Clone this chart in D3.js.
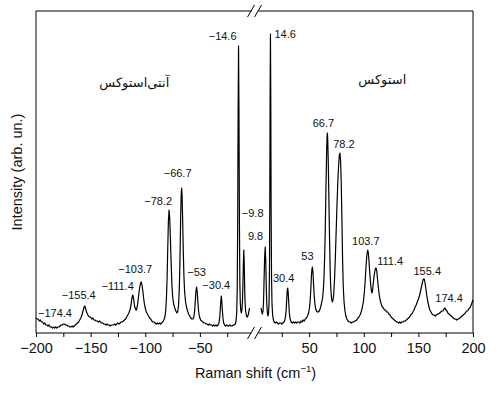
<!DOCTYPE html>
<html><head><meta charset="utf-8">
<script src="https://cdn.jsdelivr.net/npm/d3@7"></script>
<style>
body{margin:0;background:#fff;}
svg{display:block;}
text{font-family:"Liberation Sans",Arial,sans-serif;fill:#111;}
.fa{font-family:"DejaVu Sans","Noto Sans",sans-serif;}
</style></head><body>
<svg id="c" width="500" height="394"></svg>
<script>
// ---- data ----
const antiStokesShift = [-200,-199,-198,-197,-196,-195,-194,-193,-192,-191,-190,-189,-188,-187,-186,-185,-184,-183,-182,-181,-180,-179,-178,-177,-176,-175,-174,-173,-172,-171,-170,-169,-168,-167,-166,-165,-164,-163,-162,-161,-160,-159,-158,-157,-156,-155.4,-155,-154,-153,-152,-151,-150,-149,-148,-147,-146,-145,-144,-143,-142,-141,-140,-139,-138,-137,-136,-135,-134,-133,-132,-131,-130,-129,-128,-127,-126,-125,-124,-123,-122,-121,-120,-119,-118,-117,-116,-115,-114,-113,-112.2,-111.4,-110.6,-109.8,-109,-108.2,-107.4,-106.6,-105.8,-105,-104.3,-103.7,-103,-102.2,-101.4,-100.6,-99.8,-99,-98,-97,-96,-95,-94,-93,-92,-91,-90,-89,-88,-87,-86,-85,-84,-83,-82,-81.3,-80.6,-80,-79.4,-78.8,-78.2,-77.6,-77,-76.3,-75.6,-74.8,-74,-73,-72,-71,-70.2,-69.5,-68.8,-68.2,-67.6,-67.1,-66.7,-66.3,-65.8,-65.2,-64.6,-64,-63.2,-62.3,-61.3,-60.3,-59.3,-58.3,-57.3,-56.3,-55.5,-54.8,-54.2,-53.6,-53,-52.4,-51.8,-51.1,-50.3,-49.3,-48.3,-47.3,-46.3,-45.3,-44.3,-43.3,-42.3,-41.3,-40.3,-39.3,-38.3,-37.3,-36.3,-35.3,-34.3,-33.3,-32.5,-31.8,-31.2,-30.7,-30.4,-30,-29.5,-28.9,-28.2,-27.4,-26.5,-25.5,-24.5,-23.5,-22.5,-21.5,-20.5,-19.5,-18.5,-17.6,-16.9,-16.3,-15.8,-15.4,-15,-14.6,-14.2,-13.8,-13.4,-13,-12.5,-12,-11.5,-11,-10.6,-10.2,-9.8,-9.4,-9,-8.6,-8.1,-7.5,-7,-6.4,-5.8,-5.2,-4.6];
const antiStokesIntensity = [15,14,14,12,13,11,11,9,10,8,8,7,8,6,6,5,6,5,6,5,6,6,7,8,8,9,9,8,8,7,7,6,6,7,6,7,8,9,10,11,13,15,18,22,26,27,26,22,19,17,16,16,14,15,13,13,12,12,11,12,11,10,10,9,9,8,9,8,8,7,8,8,8,9,8,9,10,9,10,11,11,12,13,14,16,18,20,23,28,35,38,34,27,24,23,26,32,40,46,50,51,48,42,34,28,24,21,19,17,15,14,12,11,11,10,9,10,9,10,9,10,11,13,16,22,35,55,85,112,123,115,95,70,48,35,29,25,22,20,22,28,45,75,115,138,145,138,115,82,57,42,32,26,22,19,17,15,14,14,16,22,32,42,46,41,30,21,16,13,12,11,10,10,9,9,8,9,8,8,7,8,7,8,7,8,10,16,26,34,37,33,24,15,10,8,7,8,7,7,8,7,7,8,8,9,12,20,45,110,220,287,215,110,50,30,22,20,23,32,48,70,83,70,45,30,22,18,16,16,18,21,25];
const stokesShift = [6,6.6,7.2,7.8,8.3,8.8,9.3,9.8,10.3,10.8,11.3,11.8,12.3,12.8,13.3,13.7,14,14.3,14.6,14.9,15.2,15.6,16,16.6,17.3,18,19,20,21,22,23,24,25,26,27,27.8,28.5,29.1,29.6,30,30.4,30.8,31.3,31.9,32.6,33.5,34.5,35.5,36.5,37.5,38.5,39.5,40.5,41.5,42.5,43.5,44.5,45.5,46.5,47.5,48.5,49.5,50.3,51,51.6,52.1,52.6,53,53.5,54,54.6,55.3,56,56.8,57.6,58.4,59.2,60,60.8,61.6,62.3,63,63.6,64.2,64.8,65.4,66,66.4,66.7,67,67.5,68,68.6,69.2,69.8,70.5,71.2,71.9,72.6,73.3,74,74.7,75.5,76.3,77,77.6,78.2,78.8,79.4,80,80.6,81.2,81.9,82.7,83.6,84.6,85.6,86.6,87.6,88.6,89.6,90.6,91.6,92.6,93.6,94.6,95.6,96.6,97.6,98.6,99.6,100.5,101.3,102,102.7,103.2,103.7,104.2,104.8,105.5,106.2,106.9,107.5,108.1,108.8,109.6,110.4,111,111.4,111.9,112.6,113.4,114.2,115,116,117,118,119,120,121,122,123,124,125,126,127,128,129,130,131,132,133,134,135,136,137,138,139,140,141,142,143,144,145,146,147,148,149,150,151,152,153,153.8,154.6,155.4,156.1,156.8,157.6,158.5,159.5,160.5,161.5,162.5,163.5,164.5,165.5,166.5,167.5,168.5,169.5,170.5,171.5,172.5,173.5,174.4,175.3,176.2,177,178,179,180,181,182,183,184,185,186,187,188,189,190,191,192,193,194,195,196,197,198,199,200];
const stokesIntensity = [25,21,19,22,32,55,76,86,72,45,28,20,17,19,30,60,130,240,299,235,125,55,30,18,13,11,10,11,10,9,10,10,9,10,11,13,17,25,36,43,45,41,31,20,14,11,10,11,10,11,10,11,11,10,12,11,13,12,14,15,17,20,25,33,45,57,64,66,61,50,38,29,24,22,21,21,22,24,27,31,35,43,55,75,105,145,180,196,200,194,172,140,100,65,45,35,31,33,40,55,75,100,128,152,168,177,180,172,150,115,75,48,32,23,17,14,12,11,11,10,11,11,12,12,13,15,16,18,21,25,31,40,52,65,76,81,83,80,72,60,50,43,40,43,51,58,63,65,65,62,54,45,38,33,29,26,25,23,23,21,21,19,18,16,15,14,13,12,11,11,10,11,10,11,11,12,12,13,14,15,16,18,19,21,23,26,28,31,34,37,42,47,51,54,54,50,45,38,32,27,23,21,19,18,18,17,18,19,19,20,21,22,22,24,25,23,22,20,19,18,17,16,15,14,14,13,14,14,15,16,17,18,19,20,22,22,24,25,27,30,33];
const peakShifts = [-174.4,-155.4,-111.4,-103.7,-78.2,-66.7,-53,-30.4,-14.6,-9.8,9.8,14.6,30.4,53,66.7,78.2,103.7,111.4,155.4,174.4];
const peakLabels = ["−174.4","−155.4","−111.4","−103.7","−78.2","−66.7","−53","−30.4","−14.6","−9.8","9.8","14.6","30.4","53","66.7","78.2","103.7","111.4","155.4","174.4"];
const majorTicks = [-200,-150,-100,-50,50,100,150,200];
const minorTicks = [-175,-125,-75,-25,25,75,125,175];
const regionLabels = ["آنتی\u200cاستوکس","استوکس"];
const xTitle = "Raman shift (cm";
const yTitle = "Intensity (arb. un.)";

// ---- layout ----
const W=500,H=394, m={l:36,r:27,t:11,b:61};
const iw=W-m.l-m.r, ih=H-m.t-m.b;
const svg=d3.select("#c");
const g=svg.append("g").attr("transform",`translate(${m.l},${m.t})`);
const x=d3.scaleLinear().domain([-200,200]).range([0,iw]);
const y=d3.scaleLinear().domain([0,322]).range([ih,0]);

const asData=antiStokesShift.map((s,i)=>[s,antiStokesIntensity[i]]);
const sData=stokesShift.map((s,i)=>[s,stokesIntensity[i]]);
const line=d3.line().x(d=>x(d[0])).y(d=>y(d[1]));
[asData,sData].forEach(dd=>g.append("path").datum(dd).attr("d",line)
  .attr("fill","none").attr("stroke","#000").attr("stroke-width",1.2).attr("stroke-linejoin","round"));

// frame with breaks
const bx=x(0);
const fr=g.append("g").attr("stroke","#000").attr("stroke-width",1).attr("fill","none");
[0,ih].forEach(yy=>{
  fr.append("line").attr("x1",0).attr("x2",bx-3).attr("y1",yy).attr("y2",yy);
  fr.append("line").attr("x1",bx+4).attr("x2",iw).attr("y1",yy).attr("y2",yy);
  [-4,3].forEach(o=>fr.append("line").attr("x1",bx+o-3).attr("y1",yy+6).attr("x2",bx+o+4).attr("y2",yy-6));
});
fr.append("line").attr("x1",0).attr("x2",0).attr("y1",0).attr("y2",ih);
fr.append("line").attr("x1",iw).attr("x2",iw).attr("y1",0).attr("y2",ih);

// x axis ticks
const axG=g.append("g").attr("transform",`translate(0,${ih})`);
const axMajor=d3.axisBottom(x).tickValues(majorTicks).tickSize(4).tickPadding(6).tickFormat(d3.format("d"));
axG.call(axMajor);
axG.select(".domain").remove();
axG.selectAll("text").attr("font-size",14.5).attr("font-family","Liberation Sans, Arial, sans-serif").attr("fill","#111");
const axMinor=g.append("g").attr("transform",`translate(0,${ih})`)
  .call(d3.axisBottom(x).tickValues(minorTicks).tickSize(4).tickFormat(""));
axMinor.select(".domain").remove();

// titles
const xt=svg.append("text").attr("x",m.l+iw/2+1).attr("y",378).attr("text-anchor","middle").attr("font-size",14.5);
xt.append("tspan").text(xTitle);
xt.append("tspan").text("−1").attr("font-size",9.5).attr("dy",-6);
xt.append("tspan").text(")").attr("dy",6);
svg.append("text").attr("transform",`translate(22,${m.t+ih/2}) rotate(-90)`).attr("text-anchor","middle")
  .attr("font-size",14.5).text(yTitle);

// region labels
g.append("text").attr("class","fa").attr("direction","rtl").attr("text-anchor","middle")
  .attr("x",x(-110)).attr("y",y(246)).attr("font-size",13).text(regionLabels[0]);
g.append("text").attr("class","fa").attr("direction","rtl").attr("text-anchor","middle")
  .attr("x",x(117)).attr("y",y(249)).attr("font-size",13).text(regionLabels[1]);

// peak labels
const off={ "−174.4":["middle",-9,-7],"−155.4":["middle",-6,-7],"−111.4":["end",1,-5],"−103.7":["middle",-6,-9],
 "−78.2":["end",3,-5],"−66.7":["middle",-4,-11],"−53":["middle",0,-11],"−30.4":["middle",-5,-7],
 "−14.6":["end",-2,-6],"−9.8":["start",-2,-33],"9.8":["end",-2,-7],"14.6":["start",4,4],
 "30.4":["middle",-4,-6],"53":["middle",-5,-7],"66.7":["middle",-4,-6],"78.2":["middle",4,-5],
 "103.7":["middle",-2,-5],"111.4":["start",1,-3],"155.4":["middle",3,-4],"174.4":["middle",4,-6]};
const all=asData.concat(sData);
peakShifts.forEach((p,i)=>{
  const pt=all.reduce((a,b)=>Math.abs(b[0]-p)<Math.abs(a[0]-p)?b:a);
  const o=off[peakLabels[i]];
  g.append("text").attr("x",x(p)+o[1]).attr("y",y(pt[1])+o[2]).attr("text-anchor",o[0])
    .attr("font-size",11).text(peakLabels[i]);
});
</script></body></html>
